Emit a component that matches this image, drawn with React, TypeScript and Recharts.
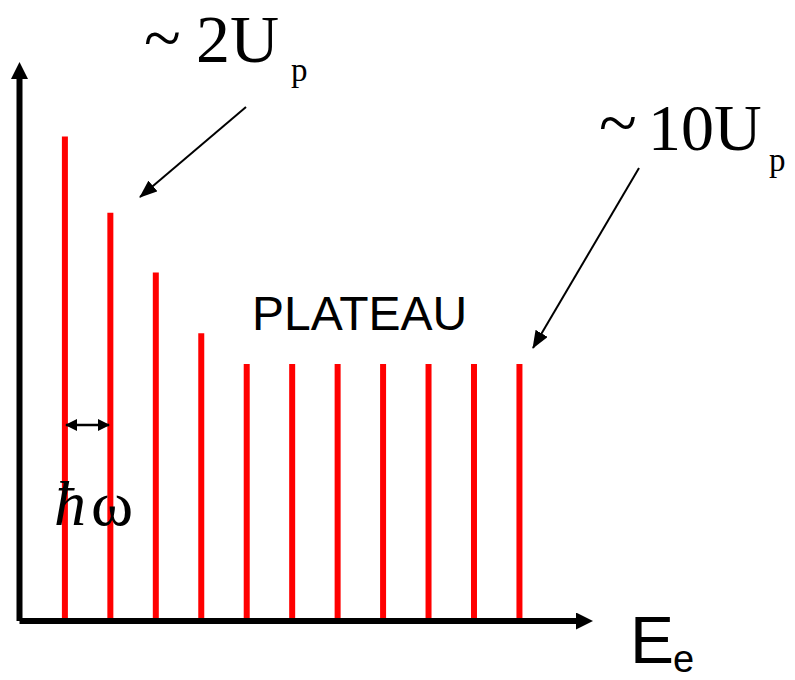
import { Bar, BarChart, XAxis, YAxis } from "recharts"

// Photoelectron peaks spaced by one photon energy (ATI spectrum)
const peakOrders = ["1", "2", "3", "4", "5", "6", "7", "8", "9", "10", "11"]
const peakYields = [89.4, 75.3, 64.3, 53.1, 47.4, 47.4, 47.4, 47.4, 47.4, 47.4, 47.4]

const data = peakOrders.map((order, i) => ({ order, yield: peakYields[i] }))

const serif = "'Liberation Serif', 'Times New Roman', serif"
const sans = "'Liberation Sans', Arial, sans-serif"

export default function App() {
  return (
    <div style={{ position: "absolute", left: 0, top: 0, width: 795, height: 680, background: "#fff" }}>
      {/* arrowheads shared by the axes and the annotation arrows */}
      <svg width={0} height={0} style={{ position: "absolute" }}>
        <defs>
          <marker
            id="axisHead"
            viewBox="0 0 17 17"
            refX={0}
            refY={8.5}
            markerWidth={17}
            markerHeight={17}
            markerUnits="userSpaceOnUse"
            orient="auto-start-reverse"
          >
            <path d="M0,0 L17,8.5 L0,17 Z" fill="#000" />
          </marker>
          <marker
            id="pointer"
            viewBox="0 0 18 14"
            refX={17}
            refY={7}
            markerWidth={18}
            markerHeight={14}
            markerUnits="userSpaceOnUse"
            orient="auto-start-reverse"
          >
            <path d="M0,0 L18,7 L0,14 Z" fill="#000" />
          </marker>
          <marker
            id="smallHead"
            viewBox="0 0 12 12"
            refX={11}
            refY={6}
            markerWidth={12}
            markerHeight={12}
            markerUnits="userSpaceOnUse"
            orient="auto-start-reverse"
          >
            <path d="M0,0 L12,6 L0,12 Z" fill="#000" />
          </marker>
        </defs>
      </svg>

      <BarChart width={795} height={680} data={data} margin={{ top: 79, right: 219, bottom: 58, left: 18.5 }}>
        <XAxis
          dataKey="order"
          height={1}
          tick={false}
          tickLine={false}
          padding={{ left: 22.4, right: 34.1 }}
          axisLine={{ stroke: "#000", strokeWidth: 6, markerEnd: "url(#axisHead)" }}
        />
        <YAxis
          width={1}
          domain={[0, 100]}
          tick={false}
          tickLine={false}
          axisLine={{ stroke: "#000", strokeWidth: 6, markerStart: "url(#axisHead)" }}
        />
        <Bar dataKey="yield" fill="#ff0000" barSize={6} isAnimationActive={false} />
      </BarChart>

      {/* labels and annotation arrows */}
      <svg width={795} height={680} style={{ position: "absolute", left: 0, top: 0, pointerEvents: "none" }}>
        <text fontFamily={serif} fontSize={68} fill="#000">
          <tspan x={144} y={61}>~</tspan>
          <tspan x={196} y={62}>2U</tspan>
          <tspan x={291} y={81} fontSize={33}>p</tspan>
        </text>
        <line x1={246} y1={107} x2={140} y2={197} stroke="#000" strokeWidth={2} markerEnd="url(#pointer)" />

        <text fontFamily={serif} fontSize={66} fill="#000">
          <tspan x={599} y={146} fontSize={70}>~</tspan>
          <tspan x={648} y={150}>10U</tspan>
          <tspan x={769} y={171} fontSize={33}>p</tspan>
        </text>
        <line x1={639} y1={168} x2={533} y2={348} stroke="#000" strokeWidth={2} markerEnd="url(#pointer)" />

        <text x={252} y={330} fontFamily={sans} fontSize={48} fill="#000">PLATEAU</text>

        <line
          x1={66}
          y1={425}
          x2={109}
          y2={425}
          stroke="#000"
          strokeWidth={2.5}
          markerStart="url(#smallHead)"
          markerEnd="url(#smallHead)"
        />
        <text y={525} fontFamily={serif} fontSize={64} fill="#000">
          <tspan x={54} fontStyle="italic">ħ</tspan>
          <tspan x={91}>ω</tspan>
        </text>

        <text fontFamily={sans} fill="#000">
          <tspan x={630} y={663} fontSize={66}>E</tspan>
          <tspan x={673} y={672} fontSize={38}>e</tspan>
        </text>
      </svg>
    </div>
  )
}
